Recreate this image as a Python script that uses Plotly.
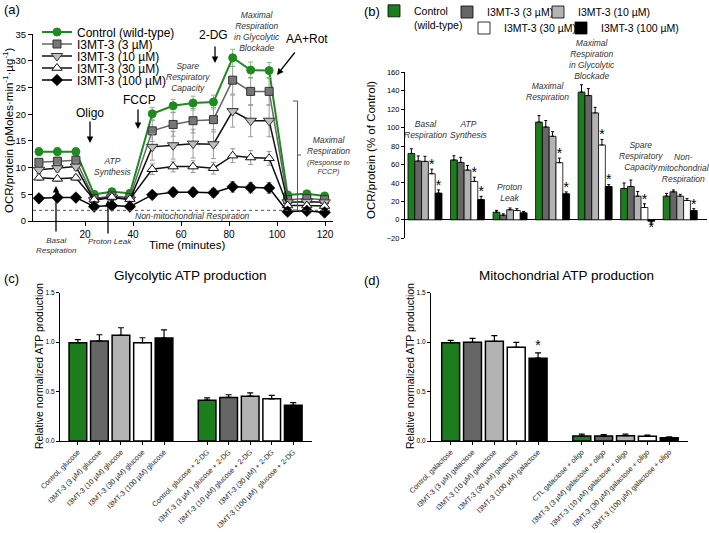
import plotly.graph_objects as go

W, H = 709, 533
def fx(x): return x / W
def fy(y): return 1 - y / H

FONT = "Liberation Sans, Arial, sans-serif"
GREEN = "#1f8a1f"

# ---------------- data ----------------
conc_names = ["Control (wild-type)", "I3MT-3 (3 µM)", "I3MT-3 (10 µM)", "I3MT-3 (30 µM)", "I3MT-3 (100 µM)"]
conc_names_b = ["Control<br>(wild-type)", "I3MT-3 (3 µM)", "I3MT-3 (10 µM)", "I3MT-3 (30 µM)", "I3MT-3 (100 µM)"]
bar_colors = ["#1c7d1c", "#666666", "#b3b3b3", "#ffffff", "#000000"]

# Panel (a): OCR time course
time_min = [0.8, 8.5, 16.2, 23.8, 31.2, 38.7, 48.0, 56.7, 65.0, 73.5, 81.5, 89.0, 96.7, 104.4, 112.4, 119.8]
ocr_control = [13.0, 13.0, 13.0, 5.0, 5.5, 5.2, 20.1, 21.6, 22.1, 22.3, 30.6, 28.3, 28.2, 4.9, 5.1, 4.7]
ocr_control_err = [0.8, 0.8, 0.8, 0.4, 0.4, 0.4, 1.2, 1.2, 1.3, 1.3, 1.6, 1.5, 1.5, 0.4, 0.4, 0.4]
ocr_3 = [11.0, 11.2, 11.4, 4.2, 4.7, 4.4, 16.9, 18.1, 18.8, 19.0, 26.4, 24.3, 24.3, 4.0, 4.2, 4.0]
ocr_3_err = [0.6, 0.6, 0.6, 0.4, 0.4, 0.4, 2.0, 2.2, 2.3, 2.3, 2.6, 2.6, 2.6, 0.4, 0.4, 0.4]
ocr_10 = [9.6, 9.9, 10.2, 3.9, 4.4, 4.0, 13.9, 14.2, 14.5, 14.4, 20.6, 18.8, 18.8, 3.5, 3.6, 3.5]
ocr_10_err = [0.7, 0.7, 0.7, 0.5, 0.5, 0.5, 2.5, 2.6, 2.7, 2.7, 3.0, 3.0, 3.0, 0.5, 0.5, 0.5]
ocr_30 = [8.1, 7.9, 8.1, 4.0, 4.5, 4.1, 9.7, 10.2, 10.2, 9.9, 12.25, 11.9, 11.75, 2.9, 2.9, 2.8]
ocr_30_err = [0.5, 0.5, 0.5, 0.4, 0.4, 0.4, 1.0, 1.0, 1.1, 1.1, 1.3, 1.3, 1.3, 0.4, 0.4, 0.4]
ocr_100 = [4.25, 4.4, 4.4, 2.7, 2.9, 2.7, 4.9, 5.4, 5.4, 5.3, 6.4, 6.25, 6.2, 1.75, 1.9, 1.6]
ocr_100_err = [0.5, 0.5, 0.5, 0.3, 0.3, 0.3, 0.6, 0.8, 0.8, 0.8, 1.0, 1.0, 1.0, 0.3, 0.3, 0.3]
non_mito_level = 2.0

# Panel (b): OCR parameters (% of control)
b_params = ["Basal<br>Respiration", "ATP<br>Synthesis", "Proton<br>Leak", "Maximal<br>Respiration",
            "Maximal<br>Respiration<br>in Glycolytic<br>Blockade", "Spare<br>Respiratory<br>Capacity",
            "Non-<br>mitochondrial<br>Respiration"]
b_control = [72.0, 65.0, 8.3, 106.0, 138.5, 34.0, 25.7]
b_control_err = [5.0, 4.5, 2.0, 7.0, 8.0, 6.0, 3.0]
b_3 = [63.8, 62.3, 5.0, 100.7, 134.8, 36.2, 30.4]
b_3_err = [5.5, 5.5, 1.5, 7.0, 7.5, 7.0, 2.0]
b_10 = [63.4, 54.0, 10.9, 90.6, 116.0, 25.7, 25.7]
b_10_err = [5.5, 5.0, 2.0, 5.0, 6.0, 5.0, 2.0]
b_30 = [50.0, 41.7, 10.1, 62.0, 81.2, 13.4, 21.0]
b_30_err = [5.0, 4.5, 2.0, 5.0, 6.0, 4.0, 2.0]
b_100 = [29.0, 22.0, 7.6, 28.3, 36.2, -1.5, 10.1]
b_100_err = [3.5, 3.5, 1.5, 2.0, 2.0, 2.0, 2.0]
b_sig_30 = [1, 1, 0, 1, 1, 1, 0]
b_sig_100 = [1, 1, 0, 1, 1, 1, 1]

# Panel (c): glycolytic ATP production
c_labels = ["Control, glucose", "I3MT-3 (3 µM) glucose", "I3MT-3 (10 µM) glucose", "I3MT-3 (30 µM) glucose",
            "I3MT-3 (100 µM) glucose", "Control, glucose + 2-DG", "I3MT-3 (3 µM ) glucose + 2-DG",
            "I3MT-3 (10 µM) glucose + 2-DG", "I3MT-3 (30 µM) + 2-DG", "I3MT-3 (100 µM)  glucose + 2-DG"]
c_values = [0.993, 1.01, 1.067, 0.993, 1.04, 0.412, 0.44, 0.453, 0.426, 0.361]
c_err = [0.03, 0.063, 0.077, 0.05, 0.083, 0.024, 0.027, 0.034, 0.034, 0.027]

# Panel (d): mitochondrial ATP production
d_labels = ["Control, galactose", "I3MT-3 (3 µM) galactose", "I3MT-3 (10 µM) galactose",
            "I3MT-3 (30 µM) galactose", "I3MT-3 (100 µM) galactose", "CTL galactose + oligo",
            "I3MT-3 (3 µM) galactose + oligo", "I3MT-3 (10 µM) galactose + oligo",
            "I3MT-3 (30 µM) galactose + oligo", "I3MT-3 (100 µM) galactose + oligo"]
d_values = [0.993, 0.997, 1.007, 0.947, 0.837, 0.05, 0.05, 0.053, 0.047, 0.033]
d_err = [0.023, 0.04, 0.057, 0.05, 0.053, 0.02, 0.015, 0.017, 0.013, 0.01]
d_sig = [0, 0, 0, 0, 1, 0, 0, 0, 0, 0]

fig = go.Figure()

# ---------------- panel (a) ----------------
a_series = [ocr_control, ocr_3, ocr_10, ocr_30, ocr_100]
a_errs = [ocr_control_err, ocr_3_err, ocr_10_err, ocr_30_err, ocr_100_err]
a_styles = [
    dict(line=dict(color=GREEN, width=2), marker=dict(symbol="circle", size=8, color=GREEN,
         line=dict(color=GREEN, width=1)), err="#86c086"),
    dict(line=dict(color="#666666", width=1.5), marker=dict(symbol="square", size=8, color="#777777",
         line=dict(color="#333333", width=1)), err="#9a9a9a"),
    dict(line=dict(color="#111111", width=1.5), marker=dict(symbol="triangle-down", size=10, color="#bdbdbd",
         line=dict(color="#333333", width=1)), err="#9a9a9a"),
    dict(line=dict(color="#111111", width=1.5), marker=dict(symbol="triangle-up", size=9, color="#ffffff",
         line=dict(color="#111111", width=1)), err="#9a9a9a"),
    dict(line=dict(color="#000000", width=1.5), marker=dict(symbol="diamond", size=9, color="#000000",
         line=dict(color="#000000", width=0.5)), err="#9a9a9a"),
]
for j in range(5):
    st = a_styles[j]
    fig.add_trace(go.Scatter(
        x=time_min, y=a_series[j], mode="lines+markers", name=conc_names[j],
        line=st["line"], marker=st["marker"],
        error_y=dict(type="data", array=a_errs[j], color=st["err"], thickness=1, width=2.5),
        xaxis="x", yaxis="y", legend="legend" if j == 0 else "legend%d" % (j + 1),
        hoverinfo="skip"))

# ---------------- panel (b) ----------------
b_vals = [b_control, b_3, b_10, b_30, b_100]
b_errs = [b_control_err, b_3_err, b_10_err, b_30_err, b_100_err]
b_x = list(range(len(b_params)))
for j in range(5):
    vals, errs = b_vals[j], b_errs[j]
    fig.add_trace(go.Bar(
        x=b_x, y=vals, name=conc_names_b[j],
        marker=dict(color=bar_colors[j], line=dict(color="#000000", width=0.8)),
        error_y=dict(type="data", symmetric=False,
                     array=[e if v >= 0 else 0 for v, e in zip(vals, errs)],
                     arrayminus=[0 if v >= 0 else e for v, e in zip(vals, errs)],
                     color="#000000", thickness=1, width=1.5),
        xaxis="x2", yaxis="y2", legend="legend%d" % (j + 6), hoverinfo="skip"))

# significance stars for panel (b)
bar_w = 0.8 / 5
star_x, star_y = [], []
for j, sig in [(3, b_sig_30), (4, b_sig_100)]:
    for i, s in enumerate(sig):
        if s:
            v, e = b_vals[j][i], b_errs[j][i]
            star_x.append(i + (j - 2) * bar_w)
            star_y.append(v + e + 4 if v >= 0 else v - e - 6)
fig.add_trace(go.Scatter(x=star_x, y=star_y, mode="text", text=["*"] * len(star_x),
                         textfont=dict(size=14, color="#000000", family=FONT),
                         textposition="middle center", xaxis="x2", yaxis="y2",
                         showlegend=False, hoverinfo="skip"))

# ---------------- panels (c), (d) ----------------
pos = [i if i < 5 else i + 1 for i in range(10)]
cols10 = [bar_colors[i % 5] for i in range(10)]
fig.add_trace(go.Bar(x=pos, y=c_values, width=0.82,
                     marker=dict(color=cols10, line=dict(color="#000000", width=1.5)),
                     error_y=dict(type="data", symmetric=False, array=c_err, arrayminus=[0] * 10,
                                  color="#000000", thickness=1.2, width=3),
                     xaxis="x3", yaxis="y3", showlegend=False, hoverinfo="skip"))
fig.add_trace(go.Bar(x=pos, y=d_values, width=0.82,
                     marker=dict(color=cols10, line=dict(color="#000000", width=1.5)),
                     error_y=dict(type="data", symmetric=False, array=d_err, arrayminus=[0] * 10,
                                  color="#000000", thickness=1.2, width=3),
                     xaxis="x4", yaxis="y4", showlegend=False, hoverinfo="skip"))
dsx = [pos[k] for k in range(10) if d_sig[k]]
dsy = [d_values[k] + d_err[k] + 0.06 for k in range(10) if d_sig[k]]
fig.add_trace(go.Scatter(x=dsx, y=dsy, mode="text", text=["*"] * len(dsx),
                         textfont=dict(size=14, color="#000000", family=FONT),
                         textposition="middle center", xaxis="x4", yaxis="y4",
                         showlegend=False, hoverinfo="skip"))

# ---------------- axes ----------------
ax_common = dict(showgrid=False, zeroline=False, showline=True, linecolor="#000000", linewidth=1.2,
                 ticks="outside", tickcolor="#000000", tickwidth=1, automargin=False)
layout = dict(
    width=W, height=H, margin=dict(l=0, r=0, t=0, b=0, autoexpand=False),
    paper_bgcolor="#ffffff", plot_bgcolor="rgba(0,0,0,0)",
    font=dict(family=FONT, color="#000000"),
    barmode="group", bargap=0.2, bargroupgap=0,
    xaxis=dict(ax_common, domain=[fx(33), fx(333)], range=[-1.67, 123.3], anchor="y",
               tickvals=[20, 40, 60, 80, 100, 120], ticklen=4, tickfont=dict(size=10)),
    yaxis=dict(ax_common, domain=[fy(221), fy(34.3)], range=[0, 35], anchor="x",
               tickvals=[0, 5, 10, 15, 20, 25, 30, 35], ticklen=4, tickfont=dict(size=9.5)),
    xaxis2=dict(domain=[fx(405), fx(707)], range=[-0.47, 6.63], anchor="y2", showgrid=False,
                zeroline=False, showline=False, showticklabels=False, ticks="", automargin=False),
    yaxis2=dict(ax_common, domain=[fy(238.3), fy(72.3)], range=[-20, 160], anchor="x2",
                tickvals=list(range(-20, 161, 20)), ticklen=3, tickfont=dict(size=7.5),
                zeroline=True, zerolinecolor="#000000", zerolinewidth=1.2),
    xaxis3=dict(ax_common, domain=[fx(60), fx(312)], range=[-0.83, 10.87], anchor="y3",
                tickvals=pos, ticktext=c_labels, tickangle=-45, ticklen=3,
                tickfont=dict(size=7.2, color="#222222")),
    yaxis3=dict(ax_common, domain=[fy(441), fy(292.5)], range=[0, 1.5], anchor="x3",
                tickvals=[0, 0.5, 1.0, 1.5], tickformat=".1f", ticklen=3, tickfont=dict(size=6.5)),
    xaxis4=dict(ax_common, domain=[fx(431), fx(688)], range=[-0.9, 10.86], anchor="y4",
                tickvals=pos, ticktext=d_labels, tickangle=-45, ticklen=3,
                tickfont=dict(size=7.2, color="#222222")),
    yaxis4=dict(ax_common, domain=[fy(441), fy(292.5)], range=[0, 1.5], anchor="x4",
                tickvals=[0, 0.5, 1.0, 1.5], tickformat=".1f", ticklen=3, tickfont=dict(size=6.5)),
)

# legends: one per entry so the spacing can match the figure
def leg(x_px, y_px, size, valign="middle"):
    return dict(x=fx(x_px), y=fy(y_px), xanchor="left", yanchor="middle", bgcolor="rgba(0,0,0,0)",
                borderwidth=0, font=dict(size=size, family=FONT), valign=valign,
                itemclick=False, itemdoubleclick=False)

a_leg_rows = [32, 44, 56, 68, 80]
for j in range(5):
    key = "legend" if j == 0 else "legend%d" % (j + 1)
    layout[key] = leg(37, a_leg_rows[j], 12)
b_leg_pos = [(374, 18, "top"), (447, 12, "middle"), (538, 12, "middle"), (464, 28, "middle"), (561, 28, "middle")]
for j in range(5):
    x_px, y_px, va = b_leg_pos[j]
    layout["legend%d" % (j + 6)] = leg(x_px, y_px, 10.5, va)

fig.update_layout(**layout)

# ---------------- annotations & shapes ----------------
anns = []
def txt(x, y, s, size, italic=False, color="#000000", xanchor="center", angle=0):
    anns.append(dict(x=fx(x), y=fy(y), xref="paper", yref="paper", text=("<i>%s</i>" % s) if italic else s,
                     showarrow=False, xanchor=xanchor, yanchor="middle", textangle=angle,
                     font=dict(size=size, color=color, family=FONT)))

def arrow(xh, yh, xt, yt):
    anns.append(dict(x=fx(xh), y=fy(yh), xref="paper", yref="paper", text="", showarrow=True,
                     ax=xt - xh, ay=yt - yh, arrowhead=2, arrowsize=1, arrowwidth=1.3,
                     arrowcolor="#000000"))

# panel labels
txt(2, 9, "(a)", 13, xanchor="left")
txt(362, 12, "(b)", 13, xanchor="left")
txt(2, 278, "(c)", 13, xanchor="left")
txt(362, 280, "(d)", 13, xanchor="left")

# panel (a) texts
txt(8, 130, "OCR/protein (pMoles·min<sup>-1</sup>·µg<sup>-1</sup>)", 11.5, angle=-90)
txt(187, 245, "Time (minutes)", 11.5)
txt(90, 113, "Oligo", 12)
txt(139, 100, "FCCP", 12)
txt(214, 35, "2-DG", 12)
txt(307, 39, "AA+Rot", 12)
arrow(90, 143, 90, 120)
arrow(138, 129, 138, 108)
arrow(215, 63, 215, 45)
arrow(277, 75, 296, 51)
arrow(56, 186, 56, 233)
arrow(108, 200, 108, 235)
IT = "#333333"
txt(257, 31.5, "Maximal<br>Respiration<br>in Glycolytic<br>Blockade", 8.5, True, IT)
txt(188, 77, "Spare<br>Respiratory<br>Capacity", 8.5, True, IT)
txt(113, 166.5, "ATP<br>Synthesis", 8.5, True, IT)
txt(328, 145, "Maximal<br>Respiration", 8.5, True, IT)
txt(328, 166.5, "(Response to<br>FCCP)", 7.2, True, IT)
txt(192, 216, "Non-mitochondrial Respiration", 8.5, True, IT)
txt(56, 245.5, "Basal<br>Respiration", 8, True, IT)
txt(110, 241, "Proton Leak", 8, True, IT)

# panel (b) texts
txt(371, 150, "OCR/protein (% of Control)", 11.5, angle=-90)
b_label_pos = [(426, 129.5), (469, 129.5), (509, 192.5), (547, 91.5), (592, 59), (641, 155.5), (684, 168.5)]
for (x_px, y_px), lab in zip(b_label_pos, b_params):
    txt(x_px, y_px, lab, 8.5, True, IT)

# panel (c), (d) texts
txt(190, 275, "Glycolytic ATP production", 13.5)
txt(566, 275, "Mitochondrial ATP production", 13.5)
txt(39, 366, "Relative normalized ATP production", 10.5, angle=-90)
txt(410, 366, "Relative normalized ATP production", 10.5, angle=-90)

fig.update_layout(annotations=anns)

shapes = [
    dict(type="line", xref="x domain", yref="y", x0=0, x1=1, y0=non_mito_level, y1=non_mito_level,
         line=dict(color="#555555", width=1, dash="dot")),
    dict(type="path", xref="paper", yref="paper",
         path="M %f %f L %f %f L %f %f L %f %f M %f %f L %f %f" % (
             fx(293), fy(101), fx(297.5), fy(101), fx(297.5), fy(210), fx(293), fy(210),
             fx(297.5), fy(155), fx(301), fy(155)),
         line=dict(color="#555555", width=1)),
]
fig.update_layout(shapes=shapes)

fig.write_html("out.html", config={"displayModeBar": False},
               post_script="document.body.style.margin='0px';")
